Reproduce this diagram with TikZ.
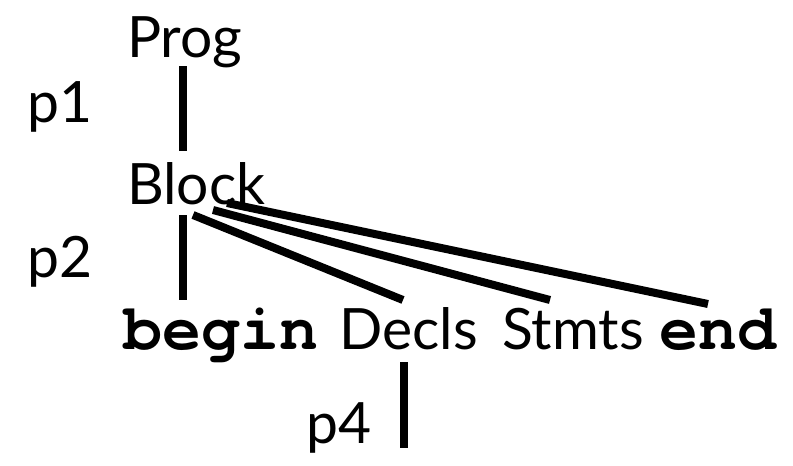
\documentclass[tikz,border=0pt]{standalone}
\usepackage{fontspec}
\setmainfont{Lato}
\newfontfamily\monofam{TeX Gyre Cursor}
\usetikzlibrary{calc}
\begin{document}
\begin{tikzpicture}[x=1pt,y=-1pt,
  lbl/.style={anchor=base west,inner sep=0pt,font=\fontsize{57}{60}\selectfont},
  kw/.style={anchor=base west,inner sep=0pt,font=\monofam\bfseries\fontsize{65}{66}\selectfont},
  edge/.style={line width=8pt,line cap=butt}]
\useasboundingbox (0,0) rectangle (793,466);
\node[lbl] (Prog) at (127,57) {Prog};
\node[lbl] (p1) at (27,122) {p1};
\node[lbl] (Block) at (127,204) {Block};
\node[lbl] (p2) at (27,277) {p2};
\node[kw] (begin) at (123,349) {begin};
\node[lbl] (Decls) at (339,349) {Decls};
\node[lbl] (Stmts) at (502,349) {Stmts};
\node[kw] (end) at (659,349) {end};
\node[lbl] (p4) at (306,443) {p4};
\draw[edge] ($(Prog.base west)+(56,9)$) -- ($(Block.base west)+(56,-53)$);
\draw[edge] ($(Block.base west)+(56,11)$) -- ($(begin.base west)+(60,-49)$);
\draw[edge] ($(Block.base west)+(66,11)$) -- ($(Decls.base west)+(64,-49)$);
\draw[edge] ($(Block.base west)+(86,6)$) -- ($(Stmts.base west)+(48,-49)$);
\draw[edge] ($(Block.base west)+(100,-1)$) -- ($(end.base west)+(49,-45)$);
\draw[edge] ($(Decls.base west)+(65,13)$) -- ($(p4.base west)+(98,5)$);
\end{tikzpicture}
\end{document}
